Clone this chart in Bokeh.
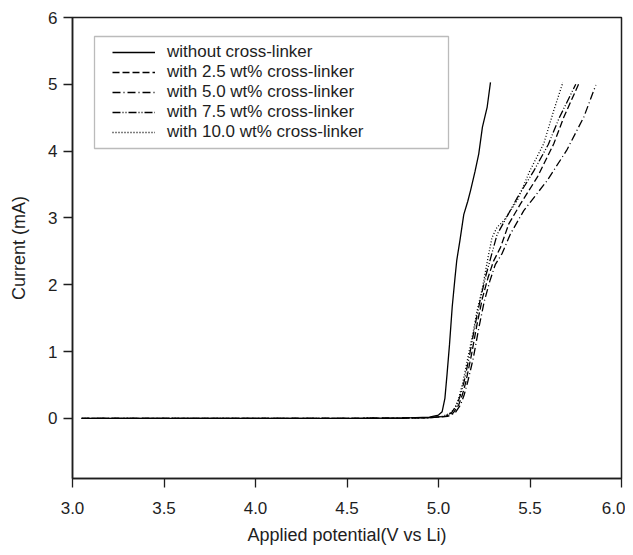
from bokeh.plotting import figure
from bokeh.models import Legend, LegendItem, Range1d, FixedTicker, BoxAnnotation
from bokeh.embed import file_html
from bokeh.resources import INLINE

# ---- data ----
v_none = [3.08, 3.5, 4.0, 4.5, 4.8, 4.95, 5.0, 5.02, 5.035, 5.047, 5.06, 5.075, 5.09, 5.10, 5.117,
          5.138, 5.16, 5.175, 5.20, 5.22, 5.24, 5.266, 5.284]
i_none = [0.0, 0.0, 0.0, 0.0, 0.005, 0.02, 0.05, 0.10, 0.30, 0.67, 1.10, 1.67, 2.10, 2.37, 2.66,
          3.05, 3.25, 3.41, 3.70, 3.96, 4.36, 4.66, 5.03]

v_25 = [3.05, 3.5, 4.0, 4.5, 4.8, 4.95, 5.04, 5.08, 5.11, 5.13, 5.15, 5.18, 5.21, 5.24, 5.27,
        5.30, 5.339, 5.384, 5.448, 5.54, 5.63, 5.685, 5.767]
i_25 = [0.0, 0.0, 0.0, 0.0, 0.005, 0.01, 0.03, 0.08, 0.20, 0.35, 0.55, 0.95, 1.40, 1.80, 2.10,
        2.35, 2.56, 2.91, 3.21, 3.61, 4.11, 4.51, 5.01]

v_50 = [3.05, 3.5, 4.0, 4.5, 4.8, 4.95, 5.05, 5.09, 5.12, 5.14, 5.16, 5.19, 5.22, 5.25, 5.28,
        5.31, 5.348, 5.393, 5.466, 5.594, 5.70, 5.794, 5.86]
i_50 = [0.0, 0.0, 0.0, 0.0, 0.005, 0.01, 0.03, 0.08, 0.20, 0.35, 0.55, 0.90, 1.35, 1.75, 2.05,
        2.30, 2.47, 2.76, 3.11, 3.56, 4.01, 4.51, 4.99]

v_75 = [3.05, 3.5, 4.0, 4.5, 4.8, 4.95, 5.03, 5.07, 5.10, 5.12, 5.14, 5.17, 5.20, 5.23, 5.26,
        5.29, 5.32, 5.37, 5.43, 5.52, 5.60, 5.66, 5.75]
i_75 = [0.0, 0.0, 0.0, 0.0, 0.005, 0.01, 0.03, 0.08, 0.20, 0.35, 0.55, 0.95, 1.40, 1.80, 2.15,
        2.45, 2.75, 3.00, 3.30, 3.70, 4.10, 4.50, 5.00]

v_100 = [3.05, 3.5, 4.0, 4.5, 4.8, 4.95, 5.02, 5.06, 5.09, 5.11, 5.13, 5.16, 5.19, 5.21, 5.24,
         5.26, 5.275, 5.293, 5.32, 5.357, 5.43, 5.50, 5.575, 5.63, 5.68]
i_100 = [0.0, 0.0, 0.0, 0.0, 0.005, 0.01, 0.03, 0.07, 0.15, 0.30, 0.50, 0.90, 1.30, 1.60, 1.95,
         2.25, 2.47, 2.71, 2.86, 2.96, 3.26, 3.71, 4.11, 4.61, 5.03]

labels = ["without cross-linker", "with 2.5 wt% cross-linker", "with 5.0 wt% cross-linker",
          "with 7.5 wt% cross-linker", "with 10.0 wt% cross-linker"]
x_ticks = [3.0, 3.5, 4.0, 4.5, 5.0, 5.5, 6.0]
y_ticks = [0, 1, 2, 3, 4, 5, 6]

FONT = "Liberation Sans"
INK = "#1e1e1e"

p = figure(width=625, height=547, output_backend="svg", toolbar_location=None,
           x_range=Range1d(3.0, 6.0), y_range=Range1d(-0.9, 6.0),
           min_border_left=72, min_border_right=4, min_border_top=17, min_border_bottom=69)
p.xgrid.visible = False
p.ygrid.visible = False
p.outline_line_color = INK
p.outline_line_width = 1.5
p.background_fill_color = "white"
p.border_fill_color = "white"

series = [(v_none, i_none, "solid"), (v_25, i_25, "7 3"), (v_50, i_50, "8 3 1 3"),
          (v_75, i_75, "8 2 1 2 1 2"), (v_100, i_100, "1 2")]
renderers = []
for (vx, iy, dash) in series:
    r = p.line(vx, iy, line_color="black", line_width=1.3, line_dash=dash)
    renderers.append(r)

for ax in (p.xaxis[0], p.yaxis[0]):
    ax.axis_line_color = INK
    ax.axis_line_width = 1.5
    ax.major_tick_line_color = INK
    ax.major_tick_line_width = 1.3
    ax.major_tick_out = 9
    ax.major_tick_in = 0
    ax.minor_tick_line_color = None
    ax.major_label_text_font = FONT
    ax.major_label_text_font_size = "17px"
    ax.major_label_text_color = INK
    ax.axis_label_text_font = FONT
    ax.axis_label_text_font_style = "normal"
    ax.axis_label_text_color = INK
    ax.axis_label_text_font_size = "18px"

p.xaxis[0].ticker = FixedTicker(ticks=x_ticks)
p.xaxis[0].major_label_overrides = {t: f"{t:.1f}" for t in x_ticks}
p.xaxis[0].major_label_standoff = 14
p.xaxis[0].axis_label = "Applied potential(V vs Li)"
p.xaxis[0].axis_label_standoff = 8
p.yaxis[0].ticker = FixedTicker(ticks=y_ticks)
p.yaxis[0].major_label_standoff = 6
p.yaxis[0].axis_label = "Current (mA)"
p.yaxis[0].axis_label_standoff = 16

# legend frame
p.add_layout(BoxAnnotation(left=22, right=376, top=442, bottom=330,
                           left_units="screen", right_units="screen",
                           top_units="screen", bottom_units="screen",
                           fill_color="white", fill_alpha=1.0,
                           line_color=INK, line_width=1.3, level="annotation"))

legend = Legend(items=[LegendItem(label=l, renderers=[r]) for l, r in zip(labels, renderers)],
                location=(40, 336), padding=0, spacing=0, margin=0,
                glyph_width=43, glyph_height=14, label_height=14, label_standoff=12,
                label_text_font=FONT, label_text_font_size="17px",
                label_text_color=INK, border_line_color=None,
                background_fill_alpha=0.0)
p.add_layout(legend)

open("out.html", "w").write(file_html(p, INLINE))
